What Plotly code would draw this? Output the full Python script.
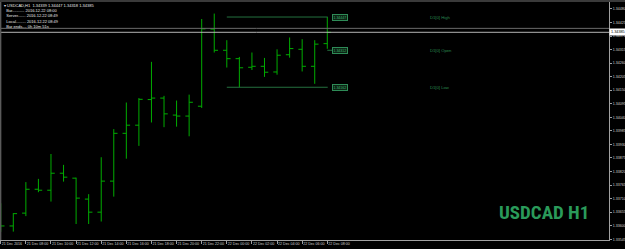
import plotly.graph_objects as go
from datetime import datetime, timedelta

# ---------------- data ----------------
symbol = "USDCAD"
timeframe = "H1"
first_bar = datetime(2016, 12, 21, 6, 0)

opens = [1.33587, 1.33599, 1.33651, 1.33748, 1.33744, 1.33813, 1.33793, 1.33708, 1.33655,
         1.33781, 1.33975, 1.34008, 1.34112, 1.34118, 1.34049, 1.34045, 1.34085, 1.34398,
         1.34312, 1.34278, 1.34243, 1.34247, 1.34224, 1.34294, 1.34316, 1.34247, 1.34339]
highs = [1.33691, 1.33651, 1.33777, 1.33790, 1.33891, 1.33847, 1.33795, 1.33728, 1.33878,
         1.33992, 1.34100, 1.34118, 1.34265, 1.34127, 1.34108, 1.34132, 1.34439, 1.34461,
         1.34353, 1.34285, 1.34303, 1.34281, 1.34316, 1.34364, 1.34357, 1.34353, 1.34447]
lows = [1.33575, 1.33576, 1.33639, 1.33736, 1.33698, 1.33779, 1.33607, 1.33607, 1.33617,
        1.33718, 1.33872, 1.33924, 1.34019, 1.34000, 1.34002, 1.33963, 1.34078, 1.34303,
        1.34242, 1.34162, 1.34232, 1.34204, 1.34213, 1.34282, 1.34226, 1.34176, 1.34318]
closes = [1.33599, 1.33649, 1.33748, 1.33744, 1.33813, 1.33797, 1.33712, 1.33655, 1.33781,
          1.33975, 1.34008, 1.34113, 1.34118, 1.34054, 1.34045, 1.34101, 1.34399, 1.34312,
          1.34278, 1.34241, 1.34247, 1.34223, 1.34292, 1.34319, 1.34247, 1.34337, 1.34385]
spread = 0.00016
d1_start_index = 18  # 22 Dec 00:00

y_tick_labels = ["1.34480", "1.34425", "1.34370", "1.34315", "1.34260", "1.34205",
                 "1.34150", "1.34095", "1.34040", "1.33985", "1.33930", "1.33875",
                 "1.33820", "1.33765", "1.33710", "1.33655", "1.33600", "1.33545"]
x_tick_labels = ["21 Dec 2016", "21 Dec 08:00", "21 Dec 10:00", "21 Dec 12:00",
                 "21 Dec 14:00", "21 Dec 16:00", "21 Dec 18:00", "21 Dec 20:00",
                 "21 Dec 22:00", "22 Dec 00:00", "22 Dec 02:00", "22 Dec 04:00",
                 "22 Dec 06:00", "22 Dec 08:00"]
info_lines = ["Bar........... 2016.12.22 08:00",
              "Server....... 2016.12.22 08:49",
              "Local......... 2016.12.22 08:49",
              "Bar ends.... 0h 10m 51s"]

# ---------------- derived ----------------
times = [first_bar + timedelta(hours=i) for i in range(len(opens))]
d1_open = opens[d1_start_index]
d1_high = max(highs[d1_start_index:])
d1_low = min(lows[d1_start_index:])
bid = closes[-1]
ask = bid + spread

BAR = "#00ac00"
D1LINE = "#24703f"
D1TXT = "#2a8a50"
AXC = "#a0a0a0"
TXT = "#d0d0d0"
FONT = "Liberation Sans"

fig = go.Figure()
fig.add_trace(go.Ohlc(
    x=times, open=opens, high=highs, low=lows, close=closes,
    increasing=dict(line=dict(color=BAR, width=1)),
    decreasing=dict(line=dict(color=BAR, width=1)),
    tickwidth=0.3, hoverinfo="skip", showlegend=False))

shapes = []
shapes.append(dict(type="line", xref="paper", yref="y", x0=0, x1=1, y0=ask, y1=ask,
                   line=dict(color="#6a6a6a", width=1)))
shapes.append(dict(type="line", xref="paper", yref="y", x0=0, x1=1, y0=bid, y1=bid,
                   line=dict(color="#b4b4b4", width=1)))
end_t = times[-1] + timedelta(minutes=2)
box_t = times[-1] + timedelta(minutes=24)
shapes.append(dict(type="line", x0=times[d1_start_index], x1=end_t, y0=d1_high, y1=d1_high,
                   line=dict(color=D1LINE, width=1)))
shapes.append(dict(type="line", x0=times[d1_start_index], x1=end_t, y0=d1_low, y1=d1_low,
                   line=dict(color=D1LINE, width=1)))
shapes.append(dict(type="line", x0=times[-1], x1=box_t, y0=d1_open, y1=d1_open,
                   line=dict(color=D1LINE, width=1)))
shapes.append(dict(type="rect", xref="paper", yref="paper", x0=-0.01, x1=1.05,
                   y0=1.0, y1=1.012, fillcolor="#3a3a3a", line=dict(width=0)))
shapes.append(dict(type="line", xref="paper", yref="paper", x0=0.001, x1=0.001,
                   y0=0, y1=1, line=dict(color="#5a5a5a", width=1.5)))

ann = []
o, h, l, c = opens[-1], highs[-1], lows[-1], closes[-1]
title_line = f"\u25be {symbol},{timeframe}  {o:.5f} {h:.5f} {l:.5f} {c:.5f}"
ann.append(dict(xref="paper", yref="paper", x=0.004, y=1.005, xanchor="left", yanchor="top",
                align="left", showarrow=False,
                text="<br>".join([title_line] + ["  " + s for s in info_lines]),
                font=dict(family=FONT, size=4, color="#e8e8e8")))
for name, val in [("High", d1_high), ("Open", d1_open), ("Low", d1_low)]:
    ann.append(dict(xref="paper", yref="y", x=0.7023, y=val, xanchor="left", yanchor="middle",
                    showarrow=False, text=f"D1[0] {name}",
                    font=dict(family=FONT, size=4.2, color=D1TXT)))
    ann.append(dict(xref="x", yref="y", x=box_t, y=val, xanchor="left", yanchor="middle",
                    showarrow=False, text=f"{val:.5f}", bgcolor="#0c2414",
                    bordercolor="#2e8b57", borderwidth=1, borderpad=0.5,
                    font=dict(family=FONT, size=3.5, color="#3cb371")))
ann.append(dict(xref="paper", yref="y", x=1.0, y=bid, xanchor="left", yanchor="middle",
                showarrow=False, text=f"{bid:.5f}", bgcolor="#ffffff", borderpad=1,
                font=dict(family=FONT, size=3.8, color="#000000")))
ann.append(dict(xref="paper", yref="paper", x=0.8928, y=0.116, xanchor="center",
                yanchor="middle", showarrow=False, text=f"<b>{symbol} {timeframe}</b>",
                font=dict(family="Liberation Sans Narrow, Roboto Condensed, DejaVu Sans Condensed, Liberation Sans",
                          size=19, color="#2a9a5a")))

fig.update_layout(
    width=625, height=249,
    margin=dict(l=0, r=16, t=2, b=9, pad=0),
    paper_bgcolor="#000000", plot_bgcolor="#000000",
    shapes=shapes, annotations=ann,
    showlegend=False,
    xaxis=dict(
        type="date",
        range=[first_bar - timedelta(hours=0.059), first_bar + timedelta(hours=48.43)],
        rangeslider=dict(visible=False),
        tickvals=times[::2], ticktext=x_tick_labels,
        tickangle=0,
        ticklabelposition="outside right",
        ticks="outside", ticklen=3, tickcolor=AXC,
        showline=True, linecolor=AXC, linewidth=1,
        showgrid=False, zeroline=False, automargin=False,
        tickfont=dict(family=FONT, size=3.6, color=TXT),
    ),
    yaxis=dict(
        side="right",
        range=[1.33542, 1.34508],
        tickvals=[float(s) for s in y_tick_labels], ticktext=y_tick_labels,
        ticks="outside", ticklen=2, tickcolor=AXC,
        showline=True, linecolor=AXC, linewidth=1,
        showgrid=False, zeroline=False, automargin=False,
        tickfont=dict(family=FONT, size=3.6, color=TXT),
    ),
)

fig.write_html("out.html")
